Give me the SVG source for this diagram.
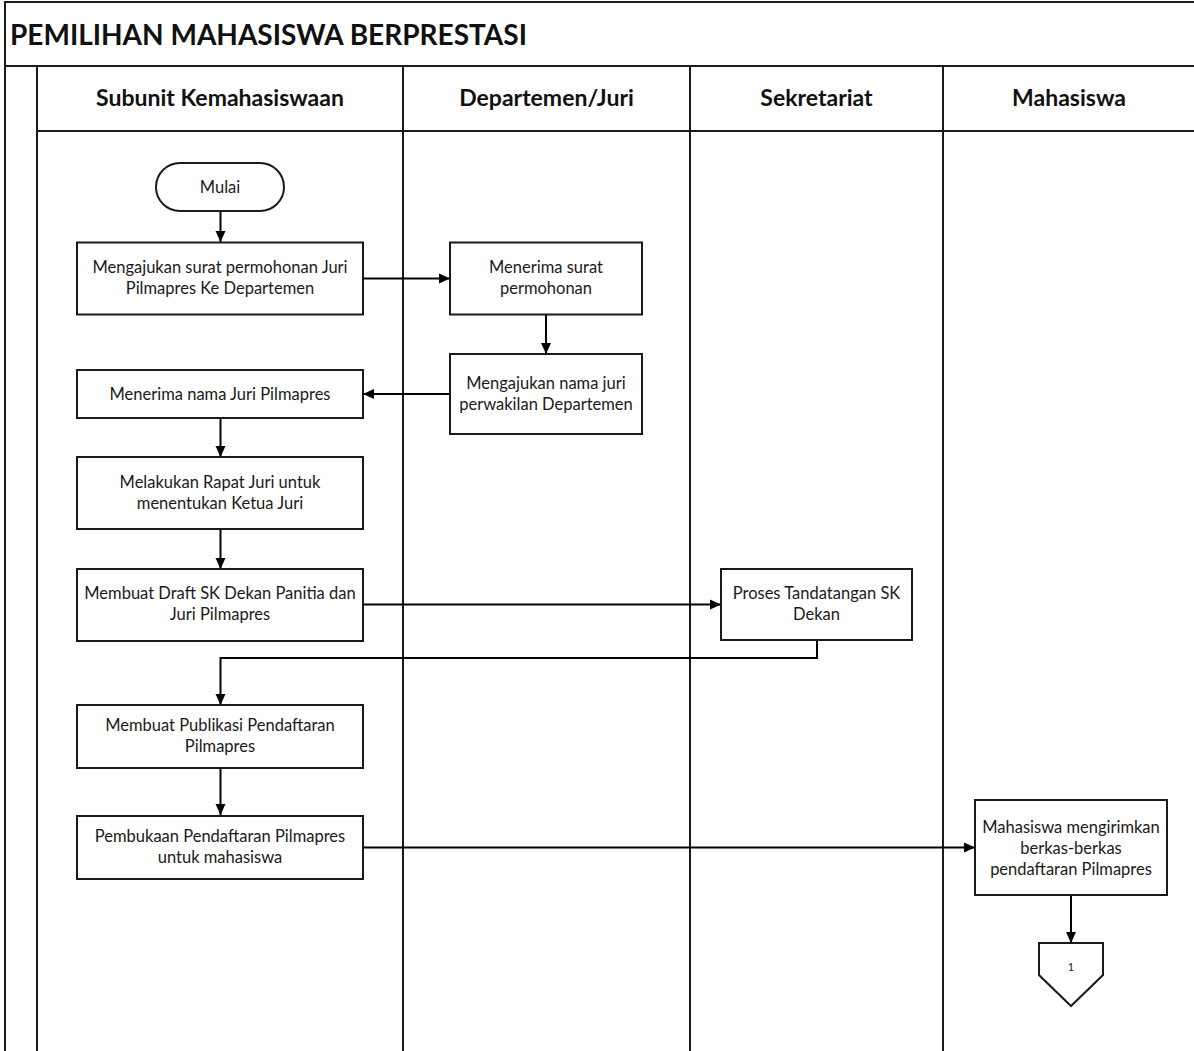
<svg xmlns="http://www.w3.org/2000/svg" width="1194" height="1051" viewBox="0 0 1194 1051">
<defs>
<style>
.frame{fill:none;stroke:#1a1a1a;stroke-width:2}
.box{fill:#fff;stroke:#1a1a1a;stroke-width:2}
.conn{fill:none;stroke:#000;stroke-width:2}
.title{font-family:Lato,"Liberation Sans",sans-serif;font-weight:bold;font-size:28px;fill:#111}
.hdr{font-family:Lato,"Liberation Sans",sans-serif;font-weight:bold;font-size:23px;fill:#111;text-anchor:middle}
.t{font-family:Lato,"Liberation Sans",sans-serif;font-size:16.5px;fill:#1a1a1a;text-anchor:middle}
.s{font-family:Lato,"Liberation Sans",sans-serif;font-size:11px;fill:#222;text-anchor:middle}
</style>
<marker id="arr" markerWidth="12" markerHeight="12" refX="11" refY="6" orient="auto" markerUnits="userSpaceOnUse">
<path d="M0,1 L11,6 L0,11 Z" fill="#000"/>
</marker>
</defs>
<rect width="1194" height="1051" fill="#fff"/>
<g id="pool">
<path class="frame" d="M5,1051 V2 H1194"/>
<path class="frame" d="M5,66 H1194"/>
<path class="frame" d="M37,66 V1051"/>
<path class="frame" d="M37,131 H1194"/>
<path class="frame" d="M403,66 V1051 M690,66 V1051 M943,66 V1051"/>
<text class="title" x="10" y="45">PEMILIHAN MAHASISWA BERPRESTASI</text>
<text class="hdr" x="220" y="106">Subunit Kemahasiswaan</text>
<text class="hdr" x="546.5" y="106">Departemen/Juri</text>
<text class="hdr" x="816.5" y="106">Sekretariat</text>
<text class="hdr" x="1069" y="106">Mahasiswa</text>
</g>
<g id="connectors">
<path class="conn" marker-end="url(#arr)" d="M220.5,211 V242"/>
<path class="conn" marker-end="url(#arr)" d="M363,278.5 H450"/>
<path class="conn" marker-end="url(#arr)" d="M546,314 V354"/>
<path class="conn" marker-end="url(#arr)" d="M450,394 H363"/>
<path class="conn" marker-end="url(#arr)" d="M220.5,418 V457"/>
<path class="conn" marker-end="url(#arr)" d="M220.5,529 V569"/>
<path class="conn" marker-end="url(#arr)" d="M363,604.5 H721"/>
<path class="conn" marker-end="url(#arr)" d="M817,640 V658 H220.5 V705"/>
<path class="conn" marker-end="url(#arr)" d="M220.5,768 V815"/>
<path class="conn" marker-end="url(#arr)" d="M363,847.5 H975"/>
<path class="conn" marker-end="url(#arr)" d="M1071,895 V943"/>
</g>
<g id="mulai">
<rect class="box" x="156" y="163" width="128" height="48" rx="24"/>
<text class="t" x="220" y="192.5">Mulai</text>
</g>
<g id="n1">
<rect class="box" x="77" y="242.5" width="286" height="72"/>
<text class="t" x="220" y="273">Mengajukan surat permohonan Juri</text>
<text class="t" x="220" y="294">Pilmapres Ke Departemen</text>
</g>
<g id="n2">
<rect class="box" x="450" y="242.5" width="192" height="72"/>
<text class="t" x="546" y="273">Menerima surat</text>
<text class="t" x="546" y="294">permohonan</text>
</g>
<g id="n3">
<rect class="box" x="450" y="354" width="192" height="80"/>
<text class="t" x="546" y="388.5">Mengajukan nama juri</text>
<text class="t" x="546" y="409.5">perwakilan Departemen</text>
</g>
<g id="n4">
<rect class="box" x="77" y="370" width="286" height="48"/>
<text class="t" x="220" y="399.5">Menerima nama Juri Pilmapres</text>
</g>
<g id="n5">
<rect class="box" x="77" y="457" width="286" height="72"/>
<text class="t" x="220" y="488">Melakukan Rapat Juri untuk</text>
<text class="t" x="220" y="509">menentukan Ketua Juri</text>
</g>
<g id="n6">
<rect class="box" x="77" y="569" width="286" height="72"/>
<text class="t" x="220" y="599">Membuat Draft SK Dekan Panitia dan</text>
<text class="t" x="220" y="620">Juri Pilmapres</text>
</g>
<g id="n7">
<rect class="box" x="721" y="569" width="191" height="71"/>
<text class="t" x="816.5" y="599">Proses Tandatangan SK</text>
<text class="t" x="816.5" y="620">Dekan</text>
</g>
<g id="n8">
<rect class="box" x="77" y="705" width="286" height="63"/>
<text class="t" x="220" y="731">Membuat Publikasi Pendaftaran</text>
<text class="t" x="220" y="752">Pilmapres</text>
</g>
<g id="n9">
<rect class="box" x="77" y="816" width="286" height="63"/>
<text class="t" x="220" y="842">Pembukaan Pendaftaran Pilmapres</text>
<text class="t" x="220" y="863">untuk mahasiswa</text>
</g>
<g id="n10">
<rect class="box" x="975" y="800" width="192" height="95"/>
<text class="t" x="1071" y="833">Mahasiswa mengirimkan</text>
<text class="t" x="1071" y="854">berkas-berkas</text>
<text class="t" x="1071" y="874.5">pendaftaran Pilmapres</text>
</g>
<g id="offpage">
<polygon class="box" points="1039,943 1103,943 1103,975 1071,1006 1039,975"/>
<text class="s" x="1071" y="971">1</text>
</g>
</svg>
